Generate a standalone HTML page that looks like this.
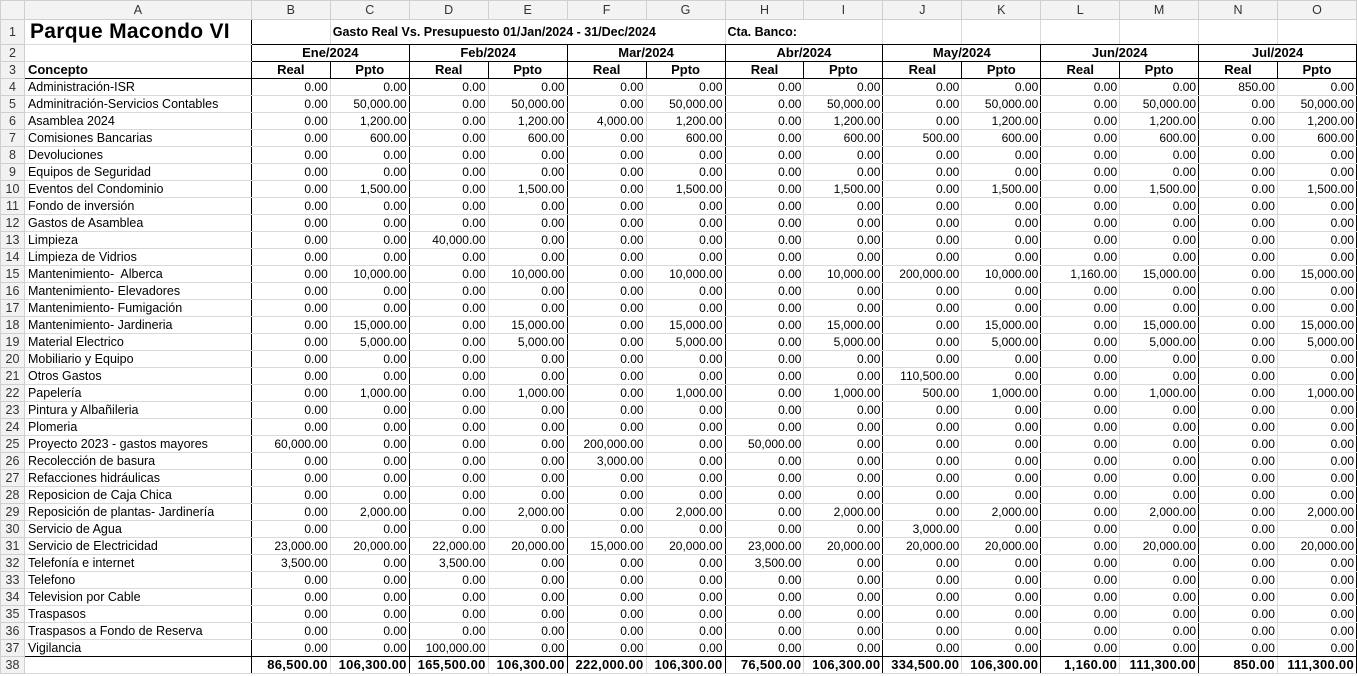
<!DOCTYPE html>
<html><head><meta charset="utf-8"><style>
html,body{margin:0;padding:0;background:#fff;width:1357px;height:676px;overflow:hidden}
table{border-collapse:collapse;table-layout:fixed;font-family:"Liberation Sans",sans-serif;font-size:12px;color:#000}
td,th{padding:0 2px;height:16px;border:1px solid #d9d9d9;white-space:nowrap;overflow:hidden;line-height:16px}
th{font-weight:normal;background:#f2f2f2;color:#333;text-align:center;font-size:12.5px;border-color:#cfcfcf}
tr.h th{height:18px;background:#f3f3f3}
tr td:nth-child(2){text-align:left;font-size:12.5px;padding-left:3px}
td{text-align:right}
tr td:nth-child(odd){border-left:1px solid #000}
tr td:nth-child(even){border-right:1px solid #000}
tr.r1 td{height:24px;border-top-color:#d9d9d9}
tr.r1 td.a{font-size:21px;font-weight:bold;padding-left:5px;border-right:1px solid #000 !important;letter-spacing:0.3px}
tr.r1 td.b{border-bottom:1px solid #000;font-weight:bold;font-size:12.5px;text-align:left;border-left:1px solid #d9d9d9 !important;border-right:1px solid #d9d9d9 !important}
tr.r1 td.b.bb{border-left:1px solid #000 !important}
tr.r2 td,tr.r3 td{font-weight:bold;text-align:center;border:1px solid #000;font-size:13px}
tr.r2 td:nth-child(2){border:1px solid #d9d9d9;border-right:1px solid #000}
tr.r3 td:nth-child(2){text-align:left;border-left-color:#d9d9d9}
tr.r37 td{border-bottom:1px solid #000}
tr.r38 td{font-weight:bold;font-size:13px;letter-spacing:0.3px}
</style></head><body>
<table>
<colgroup><col style="width:24px"><col style="width:227px"><col span="14" style="width:79px"></colgroup>
<tr class="h"><th></th><th>A</th><th>B</th><th>C</th><th>D</th><th>E</th><th>F</th><th>G</th><th>H</th><th>I</th><th>J</th><th>K</th><th>L</th><th>M</th><th>N</th><th>O</th></tr>
<tr class="r1"><th>1</th><td class="a">Parque Macondo VI</td><td class="b bb"></td><td class="b" colspan="5" style="padding-left:2px">Gasto Real Vs. Presupuesto 01/Jan/2024 - 31/Dec/2024</td><td class="b" colspan="2" style="padding-left:2px">Cta. Banco:</td><td class="b"></td><td class="b"></td><td class="b"></td><td class="b"></td><td class="b"></td><td class="b"></td></tr>
<tr class="r2"><th>2</th><td></td><td colspan="2">Ene/2024</td><td colspan="2">Feb/2024</td><td colspan="2">Mar/2024</td><td colspan="2">Abr/2024</td><td colspan="2">May/2024</td><td colspan="2">Jun/2024</td><td colspan="2">Jul/2024</td></tr>
<tr class="r3"><th>3</th><td>Concepto</td><td>Real</td><td>Ppto</td><td>Real</td><td>Ppto</td><td>Real</td><td>Ppto</td><td>Real</td><td>Ppto</td><td>Real</td><td>Ppto</td><td>Real</td><td>Ppto</td><td>Real</td><td>Ppto</td></tr>
<tr><th>4</th><td>Administración-ISR</td><td>0.00</td><td>0.00</td><td>0.00</td><td>0.00</td><td>0.00</td><td>0.00</td><td>0.00</td><td>0.00</td><td>0.00</td><td>0.00</td><td>0.00</td><td>0.00</td><td>850.00</td><td>0.00</td></tr>
<tr><th>5</th><td>Adminitración-Servicios Contables</td><td>0.00</td><td>50,000.00</td><td>0.00</td><td>50,000.00</td><td>0.00</td><td>50,000.00</td><td>0.00</td><td>50,000.00</td><td>0.00</td><td>50,000.00</td><td>0.00</td><td>50,000.00</td><td>0.00</td><td>50,000.00</td></tr>
<tr><th>6</th><td>Asamblea 2024</td><td>0.00</td><td>1,200.00</td><td>0.00</td><td>1,200.00</td><td>4,000.00</td><td>1,200.00</td><td>0.00</td><td>1,200.00</td><td>0.00</td><td>1,200.00</td><td>0.00</td><td>1,200.00</td><td>0.00</td><td>1,200.00</td></tr>
<tr><th>7</th><td>Comisiones Bancarias</td><td>0.00</td><td>600.00</td><td>0.00</td><td>600.00</td><td>0.00</td><td>600.00</td><td>0.00</td><td>600.00</td><td>500.00</td><td>600.00</td><td>0.00</td><td>600.00</td><td>0.00</td><td>600.00</td></tr>
<tr><th>8</th><td>Devoluciones</td><td>0.00</td><td>0.00</td><td>0.00</td><td>0.00</td><td>0.00</td><td>0.00</td><td>0.00</td><td>0.00</td><td>0.00</td><td>0.00</td><td>0.00</td><td>0.00</td><td>0.00</td><td>0.00</td></tr>
<tr><th>9</th><td>Equipos de Seguridad</td><td>0.00</td><td>0.00</td><td>0.00</td><td>0.00</td><td>0.00</td><td>0.00</td><td>0.00</td><td>0.00</td><td>0.00</td><td>0.00</td><td>0.00</td><td>0.00</td><td>0.00</td><td>0.00</td></tr>
<tr><th>10</th><td>Eventos del Condominio</td><td>0.00</td><td>1,500.00</td><td>0.00</td><td>1,500.00</td><td>0.00</td><td>1,500.00</td><td>0.00</td><td>1,500.00</td><td>0.00</td><td>1,500.00</td><td>0.00</td><td>1,500.00</td><td>0.00</td><td>1,500.00</td></tr>
<tr><th>11</th><td>Fondo de inversión</td><td>0.00</td><td>0.00</td><td>0.00</td><td>0.00</td><td>0.00</td><td>0.00</td><td>0.00</td><td>0.00</td><td>0.00</td><td>0.00</td><td>0.00</td><td>0.00</td><td>0.00</td><td>0.00</td></tr>
<tr><th>12</th><td>Gastos de Asamblea</td><td>0.00</td><td>0.00</td><td>0.00</td><td>0.00</td><td>0.00</td><td>0.00</td><td>0.00</td><td>0.00</td><td>0.00</td><td>0.00</td><td>0.00</td><td>0.00</td><td>0.00</td><td>0.00</td></tr>
<tr><th>13</th><td>Limpieza</td><td>0.00</td><td>0.00</td><td>40,000.00</td><td>0.00</td><td>0.00</td><td>0.00</td><td>0.00</td><td>0.00</td><td>0.00</td><td>0.00</td><td>0.00</td><td>0.00</td><td>0.00</td><td>0.00</td></tr>
<tr><th>14</th><td>Limpieza de Vidrios</td><td>0.00</td><td>0.00</td><td>0.00</td><td>0.00</td><td>0.00</td><td>0.00</td><td>0.00</td><td>0.00</td><td>0.00</td><td>0.00</td><td>0.00</td><td>0.00</td><td>0.00</td><td>0.00</td></tr>
<tr><th>15</th><td>Mantenimiento-&nbsp; Alberca</td><td>0.00</td><td>10,000.00</td><td>0.00</td><td>10,000.00</td><td>0.00</td><td>10,000.00</td><td>0.00</td><td>10,000.00</td><td>200,000.00</td><td>10,000.00</td><td>1,160.00</td><td>15,000.00</td><td>0.00</td><td>15,000.00</td></tr>
<tr><th>16</th><td>Mantenimiento- Elevadores</td><td>0.00</td><td>0.00</td><td>0.00</td><td>0.00</td><td>0.00</td><td>0.00</td><td>0.00</td><td>0.00</td><td>0.00</td><td>0.00</td><td>0.00</td><td>0.00</td><td>0.00</td><td>0.00</td></tr>
<tr><th>17</th><td>Mantenimiento- Fumigación</td><td>0.00</td><td>0.00</td><td>0.00</td><td>0.00</td><td>0.00</td><td>0.00</td><td>0.00</td><td>0.00</td><td>0.00</td><td>0.00</td><td>0.00</td><td>0.00</td><td>0.00</td><td>0.00</td></tr>
<tr><th>18</th><td>Mantenimiento- Jardineria</td><td>0.00</td><td>15,000.00</td><td>0.00</td><td>15,000.00</td><td>0.00</td><td>15,000.00</td><td>0.00</td><td>15,000.00</td><td>0.00</td><td>15,000.00</td><td>0.00</td><td>15,000.00</td><td>0.00</td><td>15,000.00</td></tr>
<tr><th>19</th><td>Material Electrico</td><td>0.00</td><td>5,000.00</td><td>0.00</td><td>5,000.00</td><td>0.00</td><td>5,000.00</td><td>0.00</td><td>5,000.00</td><td>0.00</td><td>5,000.00</td><td>0.00</td><td>5,000.00</td><td>0.00</td><td>5,000.00</td></tr>
<tr><th>20</th><td>Mobiliario y Equipo</td><td>0.00</td><td>0.00</td><td>0.00</td><td>0.00</td><td>0.00</td><td>0.00</td><td>0.00</td><td>0.00</td><td>0.00</td><td>0.00</td><td>0.00</td><td>0.00</td><td>0.00</td><td>0.00</td></tr>
<tr><th>21</th><td>Otros Gastos</td><td>0.00</td><td>0.00</td><td>0.00</td><td>0.00</td><td>0.00</td><td>0.00</td><td>0.00</td><td>0.00</td><td>110,500.00</td><td>0.00</td><td>0.00</td><td>0.00</td><td>0.00</td><td>0.00</td></tr>
<tr><th>22</th><td>Papelería</td><td>0.00</td><td>1,000.00</td><td>0.00</td><td>1,000.00</td><td>0.00</td><td>1,000.00</td><td>0.00</td><td>1,000.00</td><td>500.00</td><td>1,000.00</td><td>0.00</td><td>1,000.00</td><td>0.00</td><td>1,000.00</td></tr>
<tr><th>23</th><td>Pintura y Albañileria</td><td>0.00</td><td>0.00</td><td>0.00</td><td>0.00</td><td>0.00</td><td>0.00</td><td>0.00</td><td>0.00</td><td>0.00</td><td>0.00</td><td>0.00</td><td>0.00</td><td>0.00</td><td>0.00</td></tr>
<tr><th>24</th><td>Plomeria</td><td>0.00</td><td>0.00</td><td>0.00</td><td>0.00</td><td>0.00</td><td>0.00</td><td>0.00</td><td>0.00</td><td>0.00</td><td>0.00</td><td>0.00</td><td>0.00</td><td>0.00</td><td>0.00</td></tr>
<tr><th>25</th><td>Proyecto 2023 - gastos mayores</td><td>60,000.00</td><td>0.00</td><td>0.00</td><td>0.00</td><td>200,000.00</td><td>0.00</td><td>50,000.00</td><td>0.00</td><td>0.00</td><td>0.00</td><td>0.00</td><td>0.00</td><td>0.00</td><td>0.00</td></tr>
<tr><th>26</th><td>Recolección de basura</td><td>0.00</td><td>0.00</td><td>0.00</td><td>0.00</td><td>3,000.00</td><td>0.00</td><td>0.00</td><td>0.00</td><td>0.00</td><td>0.00</td><td>0.00</td><td>0.00</td><td>0.00</td><td>0.00</td></tr>
<tr><th>27</th><td>Refacciones hidráulicas</td><td>0.00</td><td>0.00</td><td>0.00</td><td>0.00</td><td>0.00</td><td>0.00</td><td>0.00</td><td>0.00</td><td>0.00</td><td>0.00</td><td>0.00</td><td>0.00</td><td>0.00</td><td>0.00</td></tr>
<tr><th>28</th><td>Reposicion de Caja Chica</td><td>0.00</td><td>0.00</td><td>0.00</td><td>0.00</td><td>0.00</td><td>0.00</td><td>0.00</td><td>0.00</td><td>0.00</td><td>0.00</td><td>0.00</td><td>0.00</td><td>0.00</td><td>0.00</td></tr>
<tr><th>29</th><td>Reposición de plantas- Jardinería</td><td>0.00</td><td>2,000.00</td><td>0.00</td><td>2,000.00</td><td>0.00</td><td>2,000.00</td><td>0.00</td><td>2,000.00</td><td>0.00</td><td>2,000.00</td><td>0.00</td><td>2,000.00</td><td>0.00</td><td>2,000.00</td></tr>
<tr><th>30</th><td>Servicio de Agua</td><td>0.00</td><td>0.00</td><td>0.00</td><td>0.00</td><td>0.00</td><td>0.00</td><td>0.00</td><td>0.00</td><td>3,000.00</td><td>0.00</td><td>0.00</td><td>0.00</td><td>0.00</td><td>0.00</td></tr>
<tr><th>31</th><td>Servicio de Electricidad</td><td>23,000.00</td><td>20,000.00</td><td>22,000.00</td><td>20,000.00</td><td>15,000.00</td><td>20,000.00</td><td>23,000.00</td><td>20,000.00</td><td>20,000.00</td><td>20,000.00</td><td>0.00</td><td>20,000.00</td><td>0.00</td><td>20,000.00</td></tr>
<tr><th>32</th><td>Telefonía e internet</td><td>3,500.00</td><td>0.00</td><td>3,500.00</td><td>0.00</td><td>0.00</td><td>0.00</td><td>3,500.00</td><td>0.00</td><td>0.00</td><td>0.00</td><td>0.00</td><td>0.00</td><td>0.00</td><td>0.00</td></tr>
<tr><th>33</th><td>Telefono</td><td>0.00</td><td>0.00</td><td>0.00</td><td>0.00</td><td>0.00</td><td>0.00</td><td>0.00</td><td>0.00</td><td>0.00</td><td>0.00</td><td>0.00</td><td>0.00</td><td>0.00</td><td>0.00</td></tr>
<tr><th>34</th><td>Television por Cable</td><td>0.00</td><td>0.00</td><td>0.00</td><td>0.00</td><td>0.00</td><td>0.00</td><td>0.00</td><td>0.00</td><td>0.00</td><td>0.00</td><td>0.00</td><td>0.00</td><td>0.00</td><td>0.00</td></tr>
<tr><th>35</th><td>Traspasos</td><td>0.00</td><td>0.00</td><td>0.00</td><td>0.00</td><td>0.00</td><td>0.00</td><td>0.00</td><td>0.00</td><td>0.00</td><td>0.00</td><td>0.00</td><td>0.00</td><td>0.00</td><td>0.00</td></tr>
<tr><th>36</th><td>Traspasos a Fondo de Reserva</td><td>0.00</td><td>0.00</td><td>0.00</td><td>0.00</td><td>0.00</td><td>0.00</td><td>0.00</td><td>0.00</td><td>0.00</td><td>0.00</td><td>0.00</td><td>0.00</td><td>0.00</td><td>0.00</td></tr>
<tr class="r37"><th>37</th><td>Vigilancia</td><td>0.00</td><td>0.00</td><td>100,000.00</td><td>0.00</td><td>0.00</td><td>0.00</td><td>0.00</td><td>0.00</td><td>0.00</td><td>0.00</td><td>0.00</td><td>0.00</td><td>0.00</td><td>0.00</td></tr>
<tr class="r38"><th>38</th><td></td><td>86,500.00</td><td>106,300.00</td><td>165,500.00</td><td>106,300.00</td><td>222,000.00</td><td>106,300.00</td><td>76,500.00</td><td>106,300.00</td><td>334,500.00</td><td>106,300.00</td><td>1,160.00</td><td>111,300.00</td><td>850.00</td><td>111,300.00</td></tr>
</table>
</body></html>
